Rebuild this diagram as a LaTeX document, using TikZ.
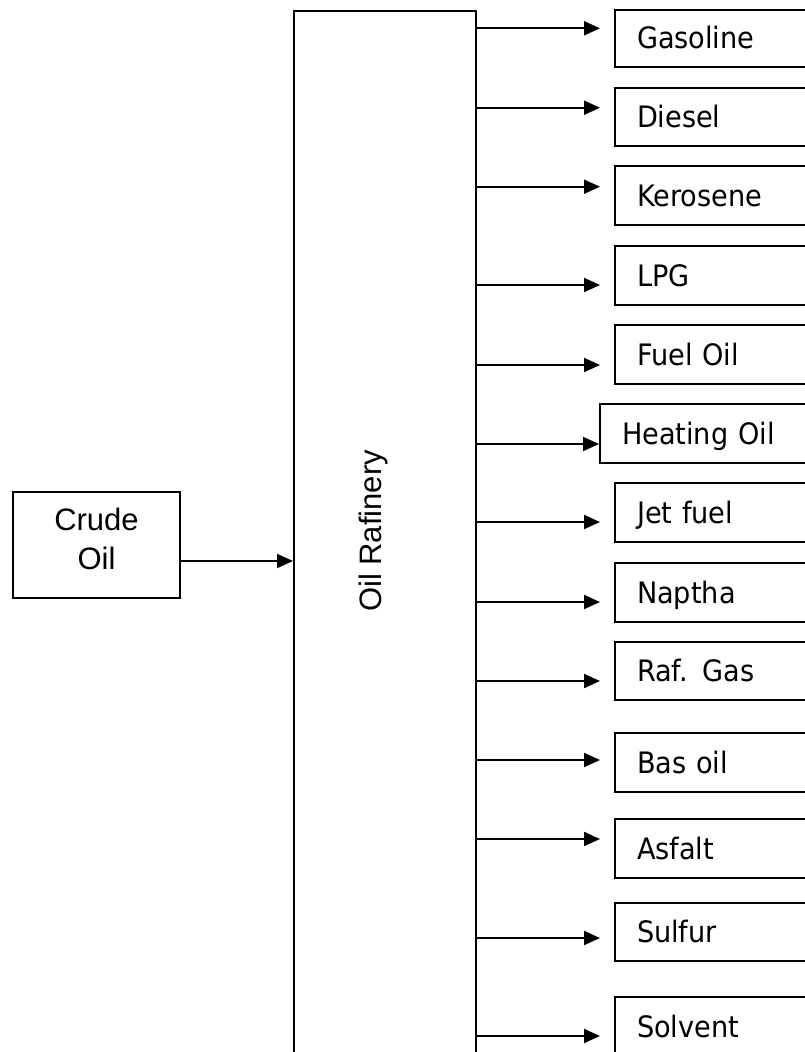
\documentclass[tikz,border=0pt]{standalone}
\usepackage{fontspec}
\setmainfont{Liberation Sans}
\newfontfamily\prodfont[FakeStretch=0.92]{DejaVu Sans}
\usetikzlibrary{arrows.meta}

\begin{document}
\begin{tikzpicture}[
  x=1pt, y=-1pt,
  box/.style={rectangle, draw, line width=2pt, inner sep=0pt},
  prod/.style={box, anchor=west, minimum width=214pt, minimum height=58.5pt,
    text width=170pt, inner xsep=22pt, align=left, text height=21.5pt, text depth=0pt,
    font=\prodfont\fontsize{29.5}{35}\selectfont},
  flow/.style={-{Triangle[length=16pt,width=14pt]}, line width=2pt},
]
  \useasboundingbox (0,0) rectangle (804,1052);

  % feed and refinery
  \node[box,anchor=north west,minimum width=167pt,minimum height=106pt] (crude) at (12,491) {};
  \node[anchor=north,inner sep=0pt,align=center,font=\fontsize{31}{39}\selectfont] (crudetext) at ([yshift=-16.5pt]crude.north) {Crude\\Oil};
  \node[box,anchor=north west,minimum width=182pt,minimum height=1043.5pt] (refinery) at (293,9.5) {};
  \node[rotate=90,inner sep=0pt,font=\fontsize{31}{37}\selectfont] (reftext) at (373,531) {Oil Rafinery};

  \coordinate (refin) at (293,561);
  \draw[flow] (crude.east |- refin) -- (refin);

  % products
  \node[prod,minimum height=57pt] (gas) at (614,38) {Gasoline};
  \node[prod] (diesel) at (614,117) {Diesel};
  \node[prod] (kero) at (614,195.5) {Kerosene};
  \node[prod] (lpg) at (614,275.5) {LPG};
  \node[prod] (fuel) at (614,354.5) {Fuel Oil};
  \node[prod] (heat) at (599,433.5) {Heating Oil};
  \node[prod] (jet) at (614,512.5) {Jet fuel};
  \node[prod] (naptha) at (614,592.5) {Naptha};
  \node[prod] (rafgas) at (614,671) {Raf. Gas};
  \node[prod] (basoil) at (614,762.5) {Bas oil};
  \node[prod] (asfalt) at (614,848.5) {Asfalt};
  \node[prod] (sulfur) at (614,932) {Sulfur};
  \node[prod] (solvent) at (614,1026.5) {Solvent};

  \coordinate (gas-in) at (600,28.3);
  \coordinate (diesel-in) at (600,107.7);
  \coordinate (kero-in) at (600,186.7);
  \coordinate (lpg-in) at (600,285);
  \coordinate (fuel-in) at (600,365);
  \coordinate (heat-in) at (heat.west |- 0,444);
  \coordinate (jet-in) at (600,522);
  \coordinate (naptha-in) at (600,602);
  \coordinate (rafgas-in) at (600,681);
  \coordinate (basoil-in) at (600,760);
  \coordinate (asfalt-in) at (600,839);
  \coordinate (sulfur-in) at (600,938);
  \coordinate (solvent-in) at (600,1036);

  \draw[flow] (refinery.east |- gas-in) -- (gas-in);
  \draw[flow] (refinery.east |- diesel-in) -- (diesel-in);
  \draw[flow] (refinery.east |- kero-in) -- (kero-in);
  \draw[flow] (refinery.east |- lpg-in) -- (lpg-in);
  \draw[flow] (refinery.east |- fuel-in) -- (fuel-in);
  \draw[flow] (refinery.east |- heat-in) -- (heat-in);
  \draw[flow] (refinery.east |- jet-in) -- (jet-in);
  \draw[flow] (refinery.east |- naptha-in) -- (naptha-in);
  \draw[flow] (refinery.east |- rafgas-in) -- (rafgas-in);
  \draw[flow] (refinery.east |- basoil-in) -- (basoil-in);
  \draw[flow] (refinery.east |- asfalt-in) -- (asfalt-in);
  \draw[flow] (refinery.east |- sulfur-in) -- (sulfur-in);
  \draw[flow] (refinery.east |- solvent-in) -- (solvent-in);
\end{tikzpicture}
\end{document}
